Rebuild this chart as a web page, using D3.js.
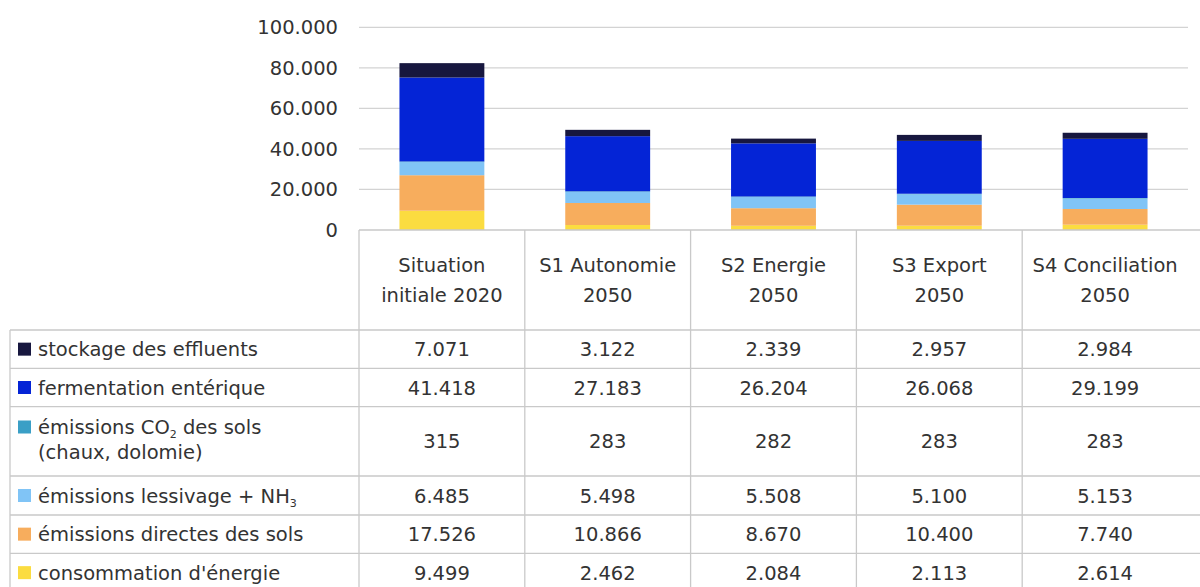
<!DOCTYPE html>
<html>
<head>
<meta charset="utf-8">
<script src="https://cdn.jsdelivr.net/npm/d3@7"></script>
<style>
  html, body { margin: 0; padding: 0; background: #fff; }
  svg { display: block; }
  text { font-family: "DejaVu Sans", sans-serif; fill: #333; }
</style>
</head>
<body>
<svg id="chart" width="1200" height="587"></svg>
<script>
// ---- data ----
const categories = [["Situation", "initiale 2020"], ["S1 Autonomie", "2050"], ["S2 Energie", "2050"], ["S3 Export", "2050"], ["S4 Conciliation", "2050"]];
const categoryKeys = ["Situation initiale 2020", "S1 Autonomie 2050", "S2 Energie 2050", "S3 Export 2050", "S4 Conciliation 2050"];
// series listed in table order (top -> bottom)
const seriesNames = ["stockage des effluents", "fermentation entérique", "émissions CO2 des sols (chaux, dolomie)", "émissions lessivage + NH3", "émissions directes des sols", "consommation d'énergie"];
const stockage     = [7071, 3122, 2339, 2957, 2984];
const fermentation = [41418, 27183, 26204, 26068, 29199];
const co2Sols      = [315, 283, 282, 283, 283];
const lessivage    = [6485, 5498, 5508, 5100, 5153];
const directes     = [17526, 10866, 8670, 10400, 7740];
const energie      = [9499, 2462, 2084, 2113, 2614];
const seriesValues = [stockage, fermentation, co2Sols, lessivage, directes, energie];
const seriesColors = ["#17173f", "#0424d6", "#3a9fc6", "#80c4f6", "#f7ad5d", "#fbdc40"];
const yTicks = [0, 20000, 40000, 60000, 80000, 100000];

// ---- layout ----
const FS = "19.5px";
const svg = d3.select("#chart");
const plotLeft = 359, plotRight = 1188, plotTop = 27.3, plotBottom = 230;
const tableLeft = 10;
const rowEdges = [230, 330, 368.3, 406.7, 476, 515, 553.3, 592];

const fr = d3.formatLocale({decimal: ",", thousands: ".", grouping: [3], currency: ["", " €"]});
const fmt = fr.format(",d");

const x = d3.scaleBand().domain(categoryKeys).range([plotLeft, plotRight]).paddingInner(0.488).paddingOuter(0.244);
const xCol = d3.scaleBand().domain(categoryKeys).range([plotLeft, plotRight]).padding(0);
const y = d3.scaleLinear().domain([0, 100000]).range([plotBottom, plotTop]);

// rows of data for stacking
const rows = categoryKeys.map((k, i) => {
  const o = {key: k};
  seriesNames.forEach((s, j) => o[s] = seriesValues[j][i]);
  return o;
});
const stackOrder = seriesNames.slice().reverse(); // bottom first
const stack = d3.stack().keys(stackOrder)(rows);
const colorOf = d3.scaleOrdinal().domain(seriesNames).range(seriesColors);

// gridlines
svg.append("g")
  .selectAll("line")
  .data(yTicks.filter(d => d > 0))
  .join("line")
  .attr("x1", plotLeft).attr("x2", plotRight)
  .attr("y1", d => y(d)).attr("y2", d => y(d))
  .attr("stroke", "#d3d3d3").attr("stroke-width", 1.2);

// y axis labels
const yAxis = d3.axisLeft(y).tickValues(yTicks).tickFormat(fmt).tickSize(0).tickPadding(0);
const ya = svg.append("g").attr("transform", `translate(338,0)`).call(yAxis);
ya.select(".domain").remove();
ya.selectAll("text").style("font-family", "DejaVu Sans, sans-serif").style("font-size", FS).attr("fill", "#333");

// bars
svg.append("g")
  .selectAll("g")
  .data(stack)
  .join("g")
  .attr("fill", d => colorOf(d.key))
  .selectAll("rect")
  .data(d => d)
  .join("rect")
  .attr("x", d => x(d.data.key))
  .attr("width", x.bandwidth())
  .attr("y", d => y(d[1]))
  .attr("height", d => y(d[0]) - y(d[1]));

// ---- table ----
const tg = svg.append("g");
const lineColor = "#c9c9c9";
tg.append("line").attr("x1", plotLeft).attr("x2", 1200).attr("y1", rowEdges[0]).attr("y2", rowEdges[0]).attr("stroke", lineColor).attr("stroke-width", 1.3);
rowEdges.slice(1).forEach(ry => {
  tg.append("line").attr("x1", tableLeft).attr("x2", 1200).attr("y1", ry).attr("y2", ry).attr("stroke", lineColor).attr("stroke-width", 1.3);
});
tg.append("line").attr("x1", tableLeft).attr("x2", tableLeft).attr("y1", rowEdges[1]).attr("y2", 592).attr("stroke", lineColor).attr("stroke-width", 1.3);
categoryKeys.forEach(k => {
  const cx = xCol(k);
  tg.append("line").attr("x1", cx).attr("x2", cx).attr("y1", rowEdges[0]).attr("y2", 592).attr("stroke", lineColor).attr("stroke-width", 1.3);
});

// header labels
categoryKeys.forEach((k, i) => {
  const cx = xCol(k) + xCol.bandwidth() / 2;
  const t = tg.append("text").attr("text-anchor", "middle").style("font-size", FS);
  t.append("tspan").attr("x", cx).attr("y", 272).text(categories[i][0]);
  t.append("tspan").attr("x", cx).attr("y", 302).text(categories[i][1]);
});

// body rows
const rowMid = i => (rowEdges[i + 1] + rowEdges[i + 2]) / 2;
seriesNames.forEach((s, j) => {
  const mid = rowMid(j);
  const multi = j === 2;
  const firstLineY = multi ? 427 : mid;
  tg.append("rect").attr("x", 18).attr("y", firstLineY - 6.5).attr("width", 13).attr("height", 13).attr("fill", seriesColors[j]);
  const lt = tg.append("text").attr("x", 38).attr("y", firstLineY + 7).style("font-size", FS);
  if (j === 2) {
    lt.append("tspan").text("émissions CO");
    lt.append("tspan").text("2").style("font-size", "11px").attr("dy", 4);
    lt.append("tspan").text(" des sols").attr("dy", -4);
    tg.append("text").attr("x", 38).attr("y", 452 + 7).style("font-size", FS).text("(chaux, dolomie)");
  } else if (j === 3) {
    lt.append("tspan").text("émissions lessivage + NH");
    lt.append("tspan").text("3").style("font-size", "11px").attr("dy", 4);
  } else {
    lt.text(s);
  }
  categoryKeys.forEach((k, i) => {
    tg.append("text")
      .attr("x", xCol(k) + xCol.bandwidth() / 2)
      .attr("y", mid + 7)
      .attr("text-anchor", "middle")
      .style("font-size", FS)
      .text(fmt(seriesValues[j][i]));
  });
});
</script>
</body>
</html>
